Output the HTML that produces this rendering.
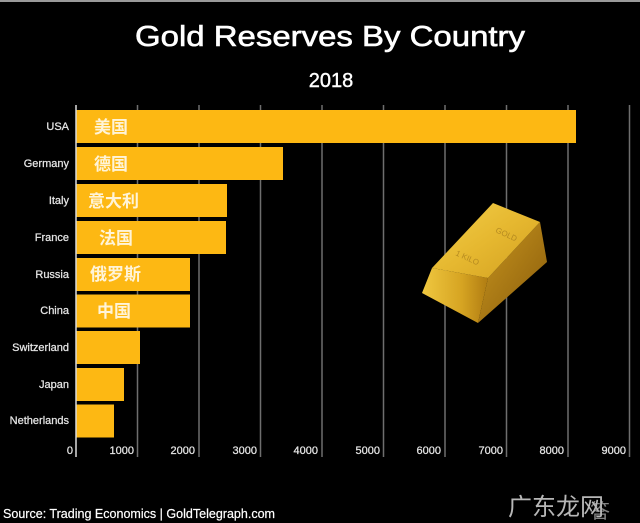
<!DOCTYPE html>
<html><head><meta charset="utf-8"><style>
html,body{margin:0;padding:0;background:#000;}
svg{display:block;}
</style></head><body>
<svg width="640" height="523" viewBox="0 0 640 523" xmlns="http://www.w3.org/2000/svg">
<defs>
<linearGradient id="gtop" x1="0" y1="0" x2="1" y2="1">
<stop offset="0" stop-color="#f2cf4a"/><stop offset="0.5" stop-color="#e6b830"/><stop offset="1" stop-color="#d2a020"/>
</linearGradient>
<linearGradient id="gfront" x1="0" y1="0" x2="1" y2="0">
<stop offset="0" stop-color="#f0c840"/><stop offset="0.6" stop-color="#d6a422"/><stop offset="1" stop-color="#b07c12"/>
</linearGradient>
<linearGradient id="gside" x1="0" y1="0" x2="1" y2="1">
<stop offset="0" stop-color="#c89620"/><stop offset="1" stop-color="#8a5c0a"/>
</linearGradient>
</defs>
<rect x="0" y="0" width="640" height="523" fill="#000"/>
<rect x="0" y="0" width="640" height="2" fill="#9a9a9a"/>
<text x="330" y="46" text-anchor="middle" font-family="Liberation Sans, sans-serif" font-size="29" fill="#fff" stroke="#fff" stroke-width="0.6" textLength="390" lengthAdjust="spacingAndGlyphs">Gold Reserves By Country</text>
<text x="331" y="87" text-anchor="middle" font-family="Liberation Sans, sans-serif" font-size="20" fill="#fff" stroke="#fff" stroke-width="0.4">2018</text>
<g stroke="#6e6e6e" stroke-width="1.5">
<line x1="137.5" y1="105" x2="137.5" y2="457"/>
<line x1="199" y1="105" x2="199" y2="457"/>
<line x1="260.5" y1="105" x2="260.5" y2="457"/>
<line x1="322" y1="105" x2="322" y2="457"/>
<line x1="383.5" y1="105" x2="383.5" y2="457"/>
<line x1="445" y1="105" x2="445" y2="457"/>
<line x1="506.5" y1="105" x2="506.5" y2="457"/>
<line x1="568" y1="105" x2="568" y2="457"/>
<line x1="629.5" y1="105" x2="629.5" y2="457"/>
</g>
<g fill="#fdb813">
<rect x="76" y="110" width="500" height="33"/>
<rect x="76" y="147" width="207" height="33"/>
<rect x="76" y="184" width="151" height="33"/>
<rect x="76" y="221" width="150" height="33"/>
<rect x="76" y="258" width="114" height="33"/>
<rect x="76" y="294.5" width="114" height="33"/>
<rect x="76" y="331" width="64" height="33"/>
<rect x="76" y="368" width="48" height="33"/>
<rect x="76" y="404.5" width="38" height="33"/>
</g>
<line x1="76" y1="105" x2="76" y2="457" stroke="#dcdcdc" stroke-width="1.5"/>
<g font-family="Liberation Sans, 'Noto Sans CJK SC', sans-serif" font-size="17" font-weight="bold" fill="#fff4d8">
<text x="94" y="133">美国</text>
<text x="94" y="170">德国</text>
<text x="88" y="207">意大利</text>
<text x="99" y="244">法国</text>
<text x="90" y="280">俄罗斯</text>
<text x="97" y="317">中国</text>
</g>
<g font-family="Liberation Sans, sans-serif" font-size="11" fill="#e6e6e6" stroke="#e6e6e6" stroke-width="0.25" text-anchor="end">
<text x="69" y="130">USA</text>
<text x="69" y="167">Germany</text>
<text x="69" y="204">Italy</text>
<text x="69" y="241">France</text>
<text x="69" y="278">Russia</text>
<text x="69" y="314">China</text>
<text x="69" y="351">Switzerland</text>
<text x="69" y="388">Japan</text>
<text x="69" y="424">Netherlands</text>
</g>
<g font-family="Liberation Sans, sans-serif" font-size="11" fill="#e6e6e6" stroke="#e6e6e6" stroke-width="0.25" text-anchor="end">
<text x="73" y="454">0</text>
<text x="134" y="454">1000</text>
<text x="195" y="454">2000</text>
<text x="257" y="454">3000</text>
<text x="318" y="454">4000</text>
<text x="380" y="454">5000</text>
<text x="441" y="454">6000</text>
<text x="503" y="454">7000</text>
<text x="564" y="454">8000</text>
<text x="626" y="454">9000</text>
</g>
<g>
<polygon points="432,268 488,278 478,323 422,293" fill="url(#gfront)"/>
<polygon points="488,278 540,222 547,262 478,323" fill="url(#gside)"/>
<polygon points="493,203 540,222 488,278 432,268" fill="url(#gtop)"/>
<text x="495" y="232" font-family="Liberation Sans, sans-serif" font-size="8" fill="#b58a20" transform="rotate(25 495 232)">GOLD</text>
<text x="455" y="255" font-family="Liberation Sans, sans-serif" font-size="8" fill="#b58a20" transform="rotate(25 455 255)">1 KILO</text>
</g>
<text x="3" y="518" font-family="Liberation Sans, sans-serif" font-size="13" fill="#fff" stroke="#fff" stroke-width="0.2" textLength="272" lengthAdjust="spacingAndGlyphs">Source: Trading Economics | GoldTelegraph.com</text>
<text x="508" y="515" font-family="Liberation Sans, 'Noto Sans CJK SC', sans-serif" font-size="24" fill="#d8d8d8" opacity="0.85">广东龙网</text>
<text x="590" y="518" font-family="Liberation Sans, 'Noto Sans CJK SC', sans-serif" font-size="20" fill="#bbbbbb" opacity="0.7">答</text>
</svg>
</body></html>
